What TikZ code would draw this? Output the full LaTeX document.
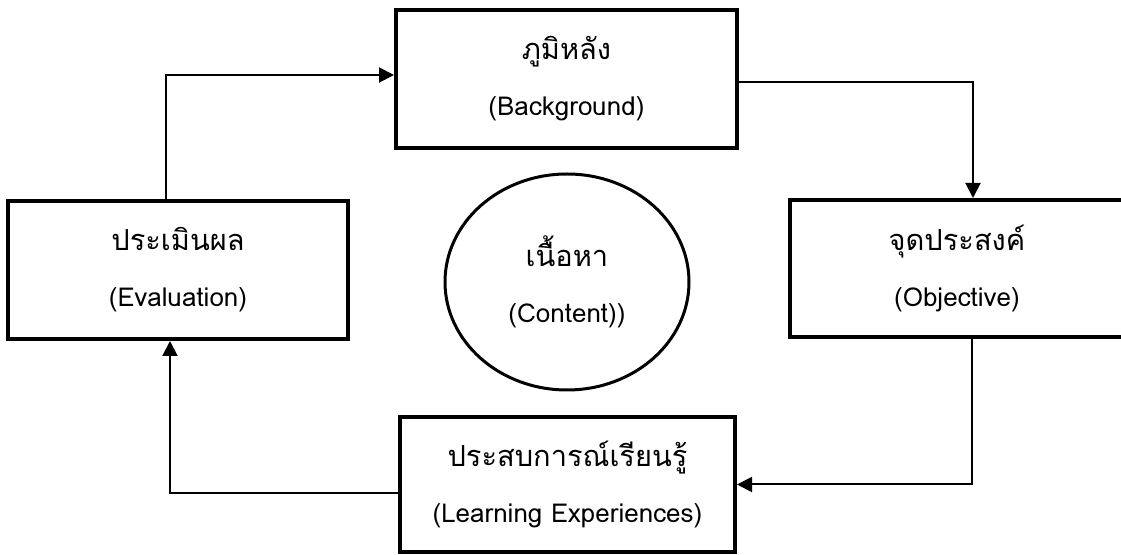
\documentclass[tikz,border=0pt]{standalone}
\usepackage{fontspec}
\newfontfamily\thaifont[Script=Thai]{Loma}
\newcommand\thline[1]{{\fontsize{14.5}{28}\selectfont #1}}
\usetikzlibrary{arrows.meta,shapes.geometric}
\tikzset{
  boxnode/.style={draw, line width=2pt, rectangle, inner sep=0pt, align=center,
    font=\thaifont\fontsize{13}{28}\selectfont},
  conn/.style={line width=1pt, -{Triangle[length=7.5pt,width=7.5pt]}},
}
\begin{document}
\begin{tikzpicture}[x=0.5pt,y=-0.5pt]
\path[use as bounding box] (0,0) rectangle (1121,555);
\clip (0,0) rectangle (1121,555);
\node[boxnode, minimum width=170.5pt, minimum height=69pt] (bg) at (566.5,79) {\thline{ภูมิหลัง}\\(Background)};
\node[boxnode, minimum width=170pt, minimum height=69pt] (ev) at (178,270) {\thline{ประเมินผล}\\(Evaluation)};
\node[boxnode, minimum width=167pt, minimum height=68.5pt] (ob) at (957,268.5) {\thline{จุดประสงค์}\\(Objective)};
\node[boxnode, minimum width=167.5pt, minimum height=67.5pt] (le) at (567.5,484.5) {\thline{ประสบการณ์เรียนรู้}\\(Learning Experiences)};
\node[draw, ellipse, line width=1.5pt, inner sep=0pt, minimum width=122pt, minimum height=108pt, align=center,
  font=\thaifont\fontsize{13}{28}\selectfont] (ct) at (567,282) {\thline{เนื้อหา}\\(Content))};
\draw[conn] ([xshift=-6pt]ev.north) |- ([yshift=2pt]bg.west);
\draw[conn] ([yshift=-1.5pt]bg.east) -| ([xshift=8pt]ob.north);
\draw[conn] ([xshift=7.5pt]ob.south) |- (le.east);
\draw[conn] ([yshift=-4.25pt]le.west) -| ([xshift=-4pt]ev.south);
\end{tikzpicture}
\end{document}
